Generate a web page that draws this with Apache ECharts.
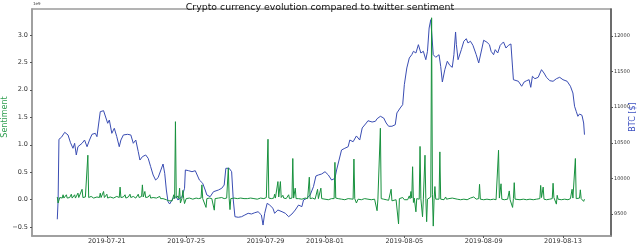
<!DOCTYPE html>
<html>
<head>
<meta charset="utf-8">
<script src="https://cdn.jsdelivr.net/npm/echarts@6/dist/echarts.min.js"></script>
<style>
html,body{margin:0;padding:0;background:#fff;}
#chart{width:640px;height:243px;}
</style>
</head>
<body>
<div id="chart"></div>
<script>
// Hours since 2019-07-18 12:00
const btcHours = [0,1,2,5,9,13,16,19,21,23,25,30,33,36,39,42,46,48,52,56,58,61,63,66,69,72,75,77,80,85,89,92,95,98,100,103,107,110,113,116,119,122,124,128,130,132,134,136,140,144,146,151,154,155,159,163,167,169,172,176,179,181,185,189,195,199,202,204,208,211,213,215,219,223,227,231,235,239,243,247,249,251,254,257,261,263,267,272,276,280,284,288,292,296,298,302,306,310,313,316,320,324,328,332,336,338,341,344,348,352,354,358,362,366,369,374,376,381,385,387,391,395,398,401,405,409,411,415,418,420,423,426,429,431,434,437,440,443,446,448,450,452,453,455,458,462,464,466,469,472,475,478,480,482,483,485,489,492,495,497,500,503,507,510,512,514,516,520,523,525,528,530,533,536,540,543,546,549,551,552,554,558,562,565,568,571,573,575,578,582,586,589,592,596,600,604,608,612,617,621,624,626,628,630,632,635,637,638];
const btcPrices = [9426,9697,10549,10577,10647,10610,10501,10423,10493,10329,10445,10493,10539,10445,10539,10619,10633,10586,10937,10951,10970,10774,10820,10633,10704,10586,10445,10539,10610,10619,10610,10493,10539,10375,10258,10305,10329,10282,10164,10048,9977,10010,9987,10202,10072,9837,9673,9640,9720,9743,9697,9743,9861,10118,10108,10094,10108,10128,9977,9931,9837,9767,9743,9813,9837,9861,9907,10142,10142,10094,9697,9462,9454,9462,9486,9510,9500,9518,9532,9486,9345,9510,9650,9626,9580,9510,9556,9532,9510,9462,9500,9556,9626,9603,9697,9720,9767,9883,10034,10048,10062,10094,10048,9977,10001,10118,10258,10399,10423,10445,10539,10515,10596,10539,10708,10778,10810,10792,10802,10838,10872,10848,10778,10732,10732,10754,10919,10989,11035,11316,11551,11691,11737,11785,11761,11878,11761,11785,11667,11785,12112,12229,12206,11737,11701,11737,11574,11354,11527,11645,11588,11560,11737,12056,11878,11667,11808,11926,11962,11902,11926,11869,11737,11621,11597,11831,11940,11912,11878,11785,11737,11808,11761,11869,11916,11831,11869,11888,11551,11386,11410,11364,11294,11354,11372,11386,11279,11434,11400,11420,11527,11480,11420,11372,11364,11400,11420,11386,11364,11294,11199,11013,10942,10872,10904,10886,10778,10614];

const sentHours = [0,1,3,6,7,8,10,11,12,15,17,18,20,21,22,24,25,26,28,30,31,34,36,37,38,41,44,48,51,52,53,55,56,57,60,61,64,68,72,75,76,77,80,82,83,86,88,89,92,95,98,99,102,103,104,106,107,110,112,113,116,120,124,125,128,132,135,137,139,141,142,143,144,146,147,148,149,151,152,153,154,156,160,164,168,169,171,174,175,176,178,180,181,184,187,189,190,191,195,199,202,205,206,207,208,209,210,214,218,222,226,230,234,238,242,246,250,253,254,255,256,259,262,263,264,266,267,268,269,270,271,273,274,277,279,280,281,284,285,286,288,289,292,296,300,303,305,306,309,312,314,315,316,318,319,320,324,328,332,335,336,337,340,344,348,352,358,359,360,362,364,368,372,376,380,384,386,387,388,390,391,392,395,398,401,403,404,405,407,410,412,413,414,416,418,420,422,424,426,427,428,429,430,431,432,434,435,437,438,439,440,442,443,444,445,446,447,448,450,452,453,454,455,456,457,458,460,462,463,464,466,468,470,471,474,476,478,480,484,488,492,496,500,504,507,510,511,512,516,520,524,528,531,533,534,535,537,538,541,545,547,548,550,551,552,553,554,556,560,564,568,572,576,580,584,585,586,587,588,589,592,596,599,600,601,603,604,605,606,610,614,618,621,622,623,624,626,627,628,630,632,633,634,636,637,638];
const sentValues = [0.05,-0.06,0.04,0.03,0.09,0.03,0.04,0.09,0.03,0.04,0.1,0.03,0.04,0.09,0.03,0.04,0.12,0.04,0.05,0.19,0.04,0.05,0.03,0.81,0.04,0.06,0.03,0.05,0.04,0.12,0.04,0.05,0.15,0.04,0.1,0.03,0.05,0.03,0.06,0.04,0.23,0.04,0.05,0.09,0.03,0.05,0.1,0.04,0.06,0.03,0.1,0.04,0.06,0.27,0.05,0.15,0.04,0.05,0.09,0.03,0.04,0.03,0.06,0.02,0.02,0.0,-0.02,0.01,-0.02,0.09,0.02,1.42,0.03,0.07,0.02,0.21,-0.06,0.03,0.17,0.02,-0.07,0.02,0.03,0.01,0.03,0.06,0.02,0.03,0.27,0.02,0.03,-0.14,0.02,0.03,0.02,0.01,-0.19,0.02,0.03,0.04,0.02,0.03,0.01,0.58,0.02,-0.18,0.02,0.03,0.02,0.03,0.02,0.02,0.03,0.02,0.01,0.03,0.02,0.04,0.02,1.10,0.03,0.02,0.03,0.1,0.03,0.04,0.33,0.05,0.06,0.33,0.04,0.08,0.03,0.02,0.04,0.09,0.02,0.03,0.75,0.03,0.21,0.02,0.02,0.01,0.03,0.02,0.41,0.02,0.03,0.01,0.03,0.19,0.02,0.03,0.21,0.02,0.01,0.0,0.02,0.02,0.68,0.03,0.02,0.01,0.0,0.02,0.01,0.74,0.02,-0.06,0.01,0.0,0.02,0.01,0.0,0.01,0.0,-0.2,0.01,0.02,1.30,0.02,0.01,0.0,-0.01,0.01,0.19,-0.02,0.01,0.0,0.01,-0.44,0.02,0.01,0.04,0.0,0.03,0.0,0.07,0.02,0.15,0.03,0.6,-0.05,0.03,-0.22,0.02,0.0,0.01,0.97,0.02,-0.31,0.01,0.03,0.81,0.02,-0.4,0.01,0.04,0.05,3.31,0.1,-0.48,0.02,0.24,0.01,0.02,0.01,0.87,0.01,0.02,0.0,0.05,0.01,0.02,0.0,0.03,0.0,0.01,0.0,0.01,0.0,0.03,0.05,0.01,0.02,0.28,0.01,0.0,0.01,0.0,0.01,0.0,0.02,0.9,0.03,0.29,0.01,0.0,0.01,0.16,0.0,0.01,-0.14,0.02,0.31,0.01,0.02,0.0,0.01,0.0,0.01,0.0,0.01,0.02,0.26,0.04,0.03,0.23,0.01,0.0,0.01,0.02,0.3,0.04,0.02,-0.08,0.08,0.01,0.0,0.01,0.0,0.02,0.04,0.19,0.03,0.05,0.75,0.02,0.01,0.03,0.18,0.02,0.01,-0.03,0.01];

const xTickHours = [60,156,252,324,420,516,612];
const xTickLabels = ['2019-07-21','2019-07-25','2019-07-29','2019-08-01','2019-08-05','2019-08-09','2019-08-13'];
const sentTicks = [-0.5,0,0.5,1,1.5,2,2.5,3];
const btcTicks = [9500,10000,10500,11000,11500,12000];

const FONT = 'DejaVu Sans';
const btcData = btcHours.map((h,i)=>[h,btcPrices[i]]);
const sentData = sentHours.map((h,i)=>[h,sentValues[i]]);

const chart = echarts.init(document.getElementById('chart'), null, {renderer:'canvas'});
chart.setOption({
  animation:false,
  backgroundColor:'#fff',
  title:{text:'Crypto currency evolution compared to twitter sentiment', left:'center', top:-2,
    textStyle:{fontFamily:FONT, fontSize:9.4, fontWeight:'normal', color:'#111'}},
  grid:{left:32, right:29, top:9, bottom:7, show:true, borderColor:'#9a9a9a', borderWidth:1.5,
    containLabel:false, outerBoundsMode:'none'},
  xAxis:{type:'value', min:-30.6, max:670.1,
    axisLine:{show:true, onZero:false, lineStyle:{color:'#9a9a9a', width:1.5}},
    splitLine:{show:false},
    axisTick:{show:true, customValues:xTickHours, length:2, lineStyle:{color:'#555'}},
    axisLabel:{customValues:xTickHours, fontFamily:FONT, fontSize:6.5, color:'#333', margin:2,
      formatter:v=>{const i=xTickHours.indexOf(v);return i>=0?xTickLabels[i]:'';}}},
  yAxis:[{type:'value', min:-0.66, max:3.47, position:'left',
    axisLine:{show:true, onZero:false, lineStyle:{color:'#9a9a9a', width:1.5}},
    splitLine:{show:false},
    axisTick:{show:true, customValues:sentTicks, length:2, lineStyle:{color:'#555'}},
    axisLabel:{customValues:sentTicks, fontFamily:FONT, fontSize:6.5, color:'#333', margin:4,
      formatter:v=>(v<0?'\u2212':'')+Math.abs(v).toFixed(1)}},
   {type:'value', min:9191, max:12379, position:'right',
    axisLine:{show:true, onZero:false, lineStyle:{color:'#555', width:1.5}},
    splitLine:{show:false},
    axisTick:{show:true, customValues:btcTicks, length:2, lineStyle:{color:'#555'}},
    axisLabel:{customValues:btcTicks, fontFamily:FONT, fontSize:5, color:'#333', margin:3,
      formatter:v=>String(v)}}],
  graphic:[
    {type:'text', left:33, top:2, style:{text:'1e9', font:'4px DejaVu Sans', fill:'#333'}},
    {type:'text', x:5, y:117, rotation:Math.PI/2,
      style:{text:'Sentiment', font:'8px DejaVu Sans', fill:'#2e9e4f', align:'center', verticalAlign:'middle'}},
    {type:'text', x:633, y:117, rotation:Math.PI/2,
      style:{text:'BTC [$]', font:'8px DejaVu Sans', fill:'#3b4fc0', align:'center', verticalAlign:'middle'}}
  ],
  series:[
    {type:'line', yAxisIndex:1, data:btcData, showSymbol:false, lineStyle:{color:'#3a4db3', width:1}, z:2},
    {type:'line', yAxisIndex:0, data:sentData, showSymbol:false, lineStyle:{color:'#17913d', width:1}, z:3}
  ]
});
</script>
</body>
</html>
